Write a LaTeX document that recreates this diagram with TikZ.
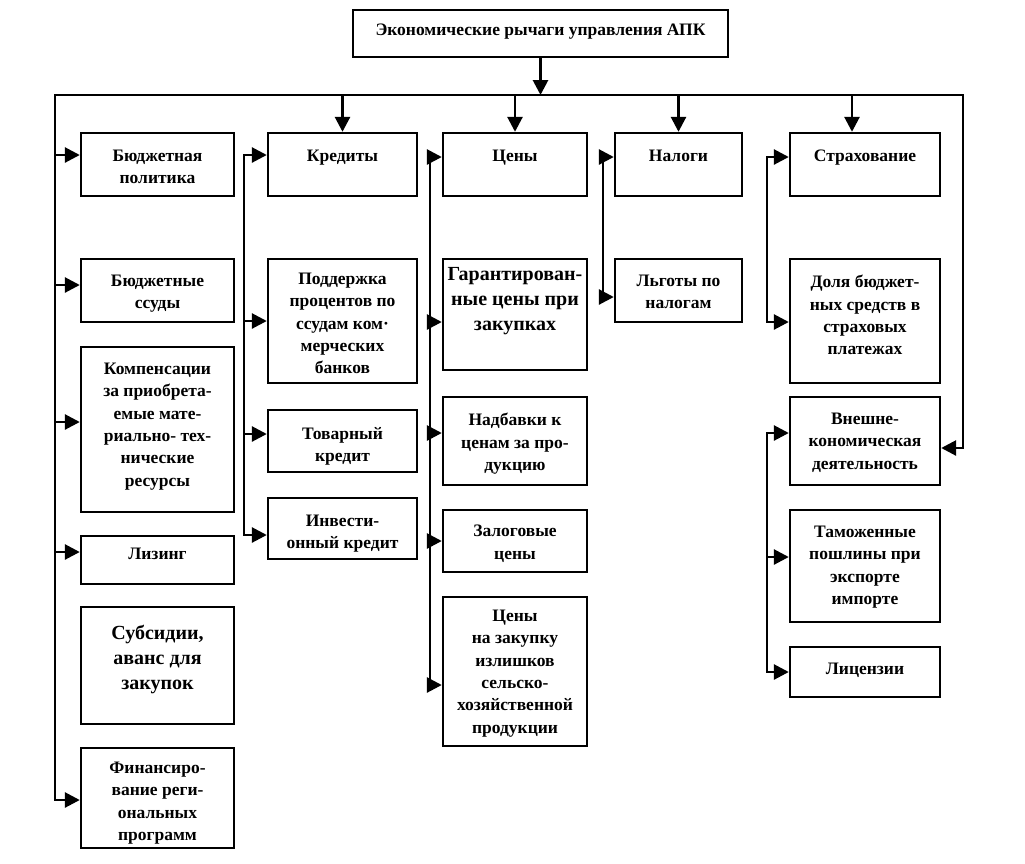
\documentclass[tikz,border=0pt]{standalone}
\usepackage{fontspec}
\setmainfont{Liberation Serif}
\usetikzlibrary{arrows.meta,fit}
\tikzset{
  boxst/.style={draw, line width=2.4pt, inner sep=0pt},
  txt/.style={font=\bfseries\fontsize{17.5}{22.3}\selectfont, align=center, inner sep=0pt},
  big/.style={font=\bfseries\fontsize{20}{25}\selectfont},
  ln/.style={line width=2.8pt, line cap=rect},
  arr/.style={line width=2.8pt, -{Triangle[length=15pt,width=15pt]}},
}
\newcommand\mybox[8][]{%
  \coordinate (#2-a) at (#3,#4);
  \coordinate (#2-b) at (#5,#6);
  \node[boxst, fit=(#2-a)(#2-b)] (#2) {};
  \node[txt,#1,anchor=north] (#2-t) at ({(#3+#5)/2},{#7-5}) {#8};
}
\newcommand\harr[3]{%
  \coordinate (h#1) at (#2,#3);
  \draw[arr] (h#1) -- (h#1 -| #1.west);
}
\begin{document}
\begin{tikzpicture}[x=1pt,y=-1pt]
\useasboundingbox (0,0) rectangle (1025,863);
% title
\mybox{title}{353}{10}{728}{57}{29}{Экономические рычаги управления АПК}
% column 1
\mybox{bp}{81}{133}{234}{196}{155}{Бюджетная\\политика}
\mybox{bs}{81}{259}{234}{322}{280}{Бюджетные\\ссуды}
\mybox{komp}{81}{347}{234}{512}{368}{Компенсации\\за приобрета-\\емые мате-\\риально- тех-\\нические\\ресурсы}
\mybox{liz}{81}{536}{234}{584}{553}{Лизинг}
\mybox[big]{sub}{81}{607}{234}{724}{630}{Субсидии,\\аванс для\\закупок}
\mybox{fin}{81}{748}{234}{848}{767}{Финансиро-\\вание реги-\\ональных\\программ}
% column 2
\mybox{kred}{268}{133}{417}{196}{155}{Кредиты}
\mybox{podd}{268}{259}{417}{383}{278}{Поддержка\\процентов по\\ссудам ком·\\мерческих\\банков}
\mybox{tov}{268}{410}{417}{472}{432}{Товарный\\кредит}
\mybox{inv}{268}{498}{417}{559}{520}{Инвести-\\онный кредит}
% column 3
\mybox{ceny}{443}{133}{587}{196}{155}{Цены}
\mybox[big]{gar}{443}{259}{587}{370}{272}{Гарантирован-\\ные цены при\\закупках}
\mybox{nadb}{443}{397}{587}{485}{418}{Надбавки к\\ценам за про-\\дукцию}
\mybox{zal}{443}{510}{587}{572}{530}{Залоговые\\цены}
\mybox{izl}{443}{597}{587}{746}{615}{Цены\\на закупку\\излишков\\сельско-\\хозяйственной\\продукции}
% column 4
\mybox{nal}{615}{133}{742}{196}{155}{Налоги}
\mybox{lg}{615}{259}{742}{322}{280}{Льготы по\\налогам}
% column 5
\mybox{str}{790}{133}{940}{196}{155}{Страхование}
\mybox{dol}{790}{259}{940}{383}{280}{Доля бюджет-\\ных средств в\\страховых\\платежах}
\mybox{vne}{790}{397}{940}{485}{418}{Внешне-\\кономическая\\деятельность}
\mybox{tam}{790}{510}{940}{622}{531}{Таможенные\\пошлины при\\экспорте\\импорте}
\mybox{lic}{790}{647}{940}{697}{668}{Лицензии}
% bus
\coordinate (busL) at (55,95);
\coordinate (busR) at (963,95);
\draw[arr] (title.south) -- (title.south |- busL);
\draw[ln] (busL) -- (busR);
\draw[arr] (kred.north |- busL) -- (kred.north);
\draw[arr] (ceny.north |- busL) -- (ceny.north);
\draw[arr] (nal.north |- busL) -- (nal.north);
\coordinate (d5) at (852,95);
\draw[arr] (d5) -- (d5 |- str.north);
% left vertical
\coordinate (L1) at (55,800);
\draw[ln] (busL) -- (L1);
\harr{bp}{55}{155}
\harr{bs}{55}{285}
\harr{komp}{55}{422}
\harr{liz}{55}{552}
\harr{fin}{55}{800}
% column 2 vertical
\harr{kred}{244}{155}
\harr{podd}{244}{321}
\harr{tov}{244}{434}
\harr{inv}{244}{535}
\draw[ln] (hkred) -- (hinv);
% column 3 vertical
\harr{ceny}{430}{157}
\harr{gar}{430}{322}
\harr{nadb}{430}{433}
\harr{zal}{430}{541}
\harr{izl}{430}{685}
\draw[ln] (hceny) -- (hizl);
% column 4 vertical
\harr{nal}{603}{157}
\harr{lg}{603}{297}
\draw[ln] (hnal) -- (hlg);
% column 5 verticals
\harr{str}{767}{157}
\harr{dol}{767}{322}
\draw[ln] (hstr) -- (hdol);
\harr{vne}{767}{433}
\harr{tam}{767}{557}
\harr{lic}{767}{672}
\draw[ln] (hvne) -- (hlic);
% right side
\coordinate (R) at (963,448);
\draw[ln] (busR) -- (R);
\draw[arr] (R) -- (R -| vne.east);
\end{tikzpicture}
\end{document}
